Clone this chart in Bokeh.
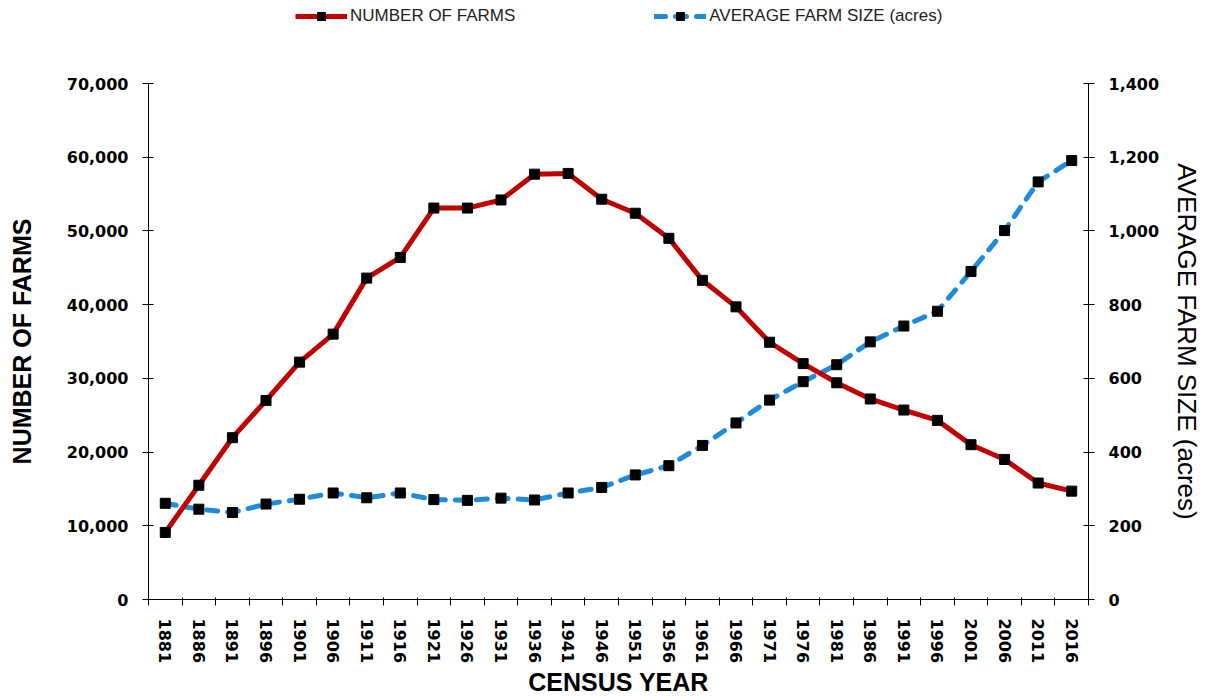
from bokeh.plotting import figure
from bokeh.layouts import column
from bokeh.models import Range1d, LinearAxis, FixedTicker, NumeralTickFormatter, Legend, LegendItem
from bokeh.embed import file_html
from bokeh.resources import INLINE

years = [1881, 1886, 1891, 1896, 1901, 1906, 1911, 1916, 1921, 1926, 1931, 1936, 1941, 1946,
         1951, 1956, 1961, 1966, 1971, 1976, 1981, 1986, 1991, 1996, 2001, 2006, 2011, 2016]
farms = [9100, 15500, 21950, 27000, 32200, 36000, 43600, 46400, 53100, 53100, 54200, 57700, 57800, 54300,
         52400, 49000, 43300, 39700, 34900, 32000, 29400, 27200, 25700, 24300, 21000, 19000, 15800, 14700]
farm_size = [261, 245, 236, 259, 272, 289, 276, 289, 271, 269, 275, 270, 289, 304,
             338, 363, 418, 479, 541, 591, 637, 699, 742, 782, 890, 1001, 1133, 1191]
left_ticks = [0, 10000, 20000, 30000, 40000, 50000, 60000, 70000]
right_ticks = [0, 200, 400, 600, 800, 1000, 1200, 1400]
series_names = ["NUMBER OF FARMS", "AVERAGE FARM SIZE (acres)"]

RED = "#C00000"
BLUE = "#1F8BDC"
DASH = "11 10"
TICK_FONT = "DejaVu Sans"
TITLE_FONT = "Liberation Sans"

FW, FH = 940, 516
LEG_H = 40
half = 2.5

# ---------- main chart ----------
p = figure(frame_width=FW, frame_height=FH,
           x_range=Range1d(years[0] - half, years[-1] + half),
           y_range=Range1d(left_ticks[0], left_ticks[-1]),
           output_backend="svg", toolbar_location=None,
           min_border_left=148, min_border_right=108, min_border_top=83 - LEG_H, min_border_bottom=86)
p.extra_y_ranges = {"size": Range1d(right_ticks[0], right_ticks[-1])}
p.outline_line_color = None
p.xgrid.visible = False
p.ygrid.visible = False
p.background_fill_color = "white"
p.border_fill_color = "white"

p.line(years, farm_size, y_range_name="size", line_color=BLUE, line_width=5,
       line_dash=DASH, line_cap="round")
p.line(years, farms, line_color=RED, line_width=5, line_join="round")
p.scatter(years, farms, marker="square", size=10, color="black")
p.scatter(years, farm_size, y_range_name="size", marker="square", size=10, color="black")

# x axis
xa = p.xaxis[0]
xa.ticker = FixedTicker(ticks=years, minor_ticks=[y - half for y in years] + [years[-1] + half])
xa.major_tick_out = 0
xa.major_tick_in = 0
xa.minor_tick_out = 6
xa.minor_tick_in = 2
xa.minor_tick_line_color = "black"
xa.axis_line_color = "black"
xa.major_label_orientation = "vertical"
xa.major_label_standoff = 13
xa.major_label_text_font = TICK_FONT
xa.major_label_text_font_style = "bold"
xa.major_label_text_font_size = "16px"
xa.major_label_text_color = "black"
xa.axis_label = "CENSUS YEAR"
xa.axis_label_text_font = TITLE_FONT
xa.axis_label_text_font_style = "bold"
xa.axis_label_text_font_size = "25px"
xa.axis_label_text_color = "black"
xa.axis_label_standoff = 2

# left axis
ya = p.yaxis[0]
ya.ticker = FixedTicker(ticks=left_ticks)
ya.formatter = NumeralTickFormatter(format="0,0")
ya.major_tick_in = 5
ya.major_tick_out = 6
ya.minor_tick_line_color = None
ya.axis_line_color = "black"
ya.major_label_standoff = 14
ya.major_label_text_font = TICK_FONT
ya.major_label_text_font_style = "bold"
ya.major_label_text_font_size = "16px"
ya.major_label_text_color = "black"
ya.axis_label = "NUMBER OF FARMS"
ya.axis_label_text_font = TITLE_FONT
ya.axis_label_text_font_style = "bold"
ya.axis_label_text_font_size = "25px"
ya.axis_label_text_color = "black"
ya.axis_label_standoff = 28

# right axis
ra = LinearAxis(y_range_name="size", ticker=FixedTicker(ticks=right_ticks),
                formatter=NumeralTickFormatter(format="0,0"))
ra.major_tick_in = 5
ra.major_tick_out = 6
ra.minor_tick_line_color = None
ra.axis_line_color = "black"
ra.major_label_standoff = 14
ra.major_label_text_font = TICK_FONT
ra.major_label_text_font_style = "bold"
ra.major_label_text_font_size = "16px"
ra.major_label_text_color = "black"
ra.axis_label = "AVERAGE FARM SIZE (acres)"
ra.axis_label_text_font = TITLE_FONT
ra.axis_label_text_font_style = "normal"
ra.axis_label_text_font_size = "26px"
ra.axis_label_text_color = "black"
ra.axis_label_standoff = 10
p.add_layout(ra, "right")

# ---------- legend strip (series drawn off-view; only the legend shows) ----------
lg = figure(width=148 + FW + 108, height=LEG_H, x_range=Range1d(0, 1), y_range=Range1d(0, 1),
            output_backend="svg", toolbar_location=None, min_border=0,
            x_axis_location=None, y_axis_location=None)
lg.outline_line_color = None
lg.xgrid.visible = False
lg.ygrid.visible = False
lr_line = lg.line(years, farms, line_color=RED, line_width=5)
lr_pts = lg.scatter(years, farms, marker="square", size=10, color="black")
lb_line = lg.line(years, farm_size, line_color=BLUE, line_width=5, line_dash=DASH, line_cap="round")
lb_pts = lg.scatter(years, farm_size, marker="square", size=10, color="black")
legend = Legend(items=[LegendItem(label=series_names[0], renderers=[lr_line, lr_pts]),
                       LegendItem(label=series_names[1], renderers=[lb_line, lb_pts])],
                orientation="horizontal", location=(147, 14),
                glyph_width=52, glyph_height=20, label_standoff=3, spacing=139,
                padding=0, margin=0, border_line_color=None, background_fill_alpha=0,
                label_text_font=TITLE_FONT, label_text_font_size="17px", label_text_color="#222222")
lg.add_layout(legend, "center")

layout = column(lg, p, spacing=0)
open("out.html", "w").write(file_html(layout, INLINE))
